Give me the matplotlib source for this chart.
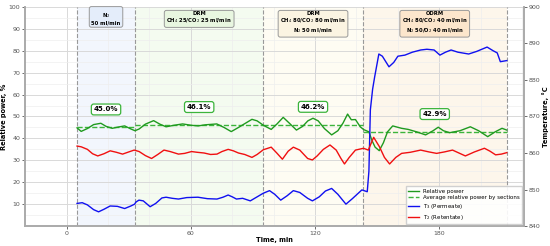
import matplotlib.pyplot as plt
from matplotlib.lines import Line2D

# section boundaries (min) and info
bounds = [5, 33, 95, 143, 212.6]
sec_avg = [45.0, 46.1, 46.2, 42.9]
sec_text = ['N$_2$\n50 ml/min',
            'DRM\nCH$_4$ 25/CO$_2$ 25 ml/min',
            'DRM\nCH$_4$ 80/CO$_2$ 80 ml/min\nN$_2$ 50 ml/min',
            'ODRM\nCH$_4$ 80/CO$_2$ 40 ml/min\nN$_2$ 50/O$_2$ 40 ml/min']
sec_fill = ['#f2f6fd', '#f4fbf0', '#fefcf3', '#fdf6eb']
sec_box = ['#e4edfa', '#e8f6e0', '#fbf4e2', '#fce6cc']

# relative power, %
t_pow = [5, 7, 10, 13, 16.5, 19, 22, 25, 28, 31, 33, 35, 38, 42, 45, 48, 52, 56, 60,
         63.5, 67, 72.5, 76, 79.5, 83, 86.5, 89.5, 92, 95, 98.8, 101.5, 104.6, 107.5,
         111, 114, 116.5, 119, 121.5, 124.5, 128, 131, 133.5, 135.7, 137.5, 139.5,
         141.8, 143.5, 146, 147.5, 149, 151, 153, 155, 157.5, 161.8, 165, 169, 173.4,
         177, 179.5, 182, 185, 190, 195, 199, 203.4, 207, 210.3, 212.6]
power = [44.8, 43.2, 44.5, 46.3, 46.9, 45.5, 44.6, 45.2, 45.7, 44.3, 43.5, 44.3, 46.5,
         48.1, 46.5, 45.3, 46.0, 46.6, 46.0, 45.7, 46.2, 46.6, 45.0, 43.1, 45.0, 47.0,
         48.7, 48.0, 46.0, 44.1, 46.5, 49.6, 47.0, 43.8, 45.5, 48.0, 49.2, 48.0, 44.5,
         41.6, 43.5, 47.0, 51.1, 48.5, 48.6, 45.3, 44.0, 43.0, 39.0, 36.0, 34.4, 38.0,
         43.0, 45.7, 44.6, 44.1, 43.0, 41.6, 43.5, 45.1, 43.5, 42.6, 43.5, 45.3, 43.5,
         40.8, 43.0, 44.6, 43.8]

# T2 (retentate), degC
t_ret = [5, 7, 10, 12.5, 15, 18, 21, 24, 27, 30, 32.6, 35, 38, 41, 44, 47, 50, 54, 57,
         60.3, 63, 66.4, 69.5, 72.6, 75, 78, 80.5, 83, 86, 89.5, 92, 95, 98.8, 101.5,
         104.2, 107, 109.5, 112.6, 116.4, 118.7, 121, 124, 127.2, 130.2, 132.5, 134.2,
         136.5, 139.5, 143.4, 145.7, 148.3, 151.1, 153.5, 156, 159, 161.8, 166, 171,
         175, 178.7, 182.5, 186.4, 189.5, 192.6, 197, 201.8, 204.5, 207.2, 210, 212.6]
t2 = [861.9, 861.7, 861.0, 859.8, 859.2, 859.8, 860.6, 860.2, 859.7, 860.3, 860.8,
      860.4, 859.3, 858.5, 859.6, 860.8, 860.4, 859.7, 859.9, 860.4, 860.2, 860.0,
      859.6, 859.7, 860.4, 861.0, 860.6, 860.0, 859.6, 858.8, 859.6, 860.9, 861.6,
      860.0, 858.3, 860.5, 861.6, 860.8, 858.5, 858.1, 859.2, 861.0, 862.2, 860.8,
      858.5, 857.0, 858.8, 860.8, 861.3, 860.8, 864.3, 861.7, 858.8, 857.0, 858.8,
      859.9, 860.2, 860.8, 860.3, 859.9, 860.3, 860.8, 860.0, 859.2, 860.3, 861.3,
      860.5, 859.5, 859.7, 860.1]

# T3 (permeate), degC
t_perm = [5, 7.5, 10, 13, 15.4, 18, 21, 24.5, 28, 31, 32.8, 33.5, 34.9, 37, 40.3, 43,
          46, 48, 51, 54, 58, 63.4, 68, 72.6, 75.5, 78, 80, 82, 85, 88.7, 92, 95, 98,
          100.5, 103.4, 106.5, 109.5, 112.6, 116.4, 118.7, 122, 125, 128, 131, 134.9,
          138, 142.6, 145.2, 146, 146.7, 147.8, 148.8, 150.8, 152.5, 155.7, 158, 160,
          163.4, 167, 171, 174, 177.5, 180.3, 183, 185.7, 189, 194.2, 198, 203.1, 206,
          208, 209.5, 212.6]
t3 = [846.2, 846.4, 845.8, 844.5, 843.9, 844.6, 845.5, 845.4, 844.8, 845.5, 846.0,
      846.6, 847.1, 846.9, 845.3, 846.2, 847.7, 847.9, 847.6, 847.4, 847.8, 847.9,
      847.5, 847.4, 847.9, 848.5, 848.0, 847.4, 847.6, 846.9, 848.0, 849.0, 849.7,
      848.7, 847.1, 848.3, 849.7, 849.2, 847.6, 846.9, 848.0, 849.6, 850.3, 848.7,
      846.0, 847.5, 849.9, 849.4, 855.0, 871.8, 877.5, 880.9, 887.1, 886.5, 883.6,
      884.8, 886.5, 886.8, 887.6, 888.2, 888.4, 888.2, 886.8, 887.6, 888.2, 887.6,
      887.1, 887.8, 889.0, 888.0, 887.4, 885.0, 885.3]

fig = plt.figure(figsize=(5.5, 2.46), dpi=100)
ax = fig.add_axes([0.046, 0.081, 0.907, 0.891])
ax2 = ax.twinx()

green = '#1f9a1f'
for i in range(4):
    a, b = bounds[i], bounds[i + 1]
    ax.axvspan(a, b, color=sec_fill[i], zorder=0, lw=0)
    ax.hlines(sec_avg[i], a, b, colors='#3cb43c', linestyles='--', lw=1.0, zorder=3)
    ax.text((a + b) / 2, sec_avg[i] + 8.2, f'{sec_avg[i]:.1f}%', ha='center', va='center',
            fontsize=5, fontweight='bold', zorder=6,
            bbox=dict(boxstyle='round,pad=0.35', fc='white', ec='#3cb43c', lw=0.9))
    ax.text((a + b) / 2, 98.3, sec_text[i], ha='center', va='top', fontsize=3.8,
            fontweight='bold', linespacing=1.15, zorder=6,
            bbox=dict(boxstyle='round,pad=0.4', fc=sec_box[i], ec='#999999', lw=0.7))
for b in bounds:
    ax.axvline(b, color='#999999', ls='--', lw=0.8, zorder=2)

ax.plot(t_pow, power, color=green, lw=1.0, zorder=4)
ax2.plot(t_perm, t3, color='#1010f0', lw=1.0, zorder=4)
ax2.plot(t_ret, t2, color='#f01010', lw=1.0, zorder=4)

ax.set_xlim(-10, 221)
ax.set_ylim(0, 100)
ax2.set_ylim(840, 900)
ax.set_xticks([0, 60, 120, 180])
ax.set_xticks(range(-20, 221, 20), minor=True)
ax.set_yticks(range(10, 101, 10))
ax.set_yticks(range(5, 100, 10), minor=True)
ax2.set_yticks(range(840, 901, 10))
ax.grid(True, which='major', color='#d9d9d9', lw=0.7, zorder=1)
ax.grid(True, which='minor', color='#eeeeee', lw=0.5, zorder=1)
ax.set_axisbelow(True)

for a in (ax, ax2):
    a.tick_params(labelsize=4.5, colors='#555555', length=2, width=0.6, pad=1.5)
    a.tick_params(which='minor', length=0)
    for s in a.spines.values():
        s.set_color('#aaaaaa')
        s.set_linewidth(1.2)
    a.spines['top'].set_visible(False)

ax.set_xlabel('Time, min', fontsize=4.8, fontweight='bold', labelpad=1)
ax.set_ylabel('Relative power, %', fontsize=4.8, fontweight='bold', labelpad=1)
ax2.set_ylabel('Temperature, °C', fontsize=4.8, fontweight='bold', labelpad=1)

handles = [Line2D([], [], color=green, lw=1.0),
           Line2D([], [], color='#3cb43c', lw=1.0, ls='--'),
           Line2D([], [], color='#1010f0', lw=1.0),
           Line2D([], [], color='#f01010', lw=1.0)]
labels = ['Relative power', 'Average relative power by sections',
          'T$_3$ (Permeate)', 'T$_2$ (Retentate)']
ax2.legend(handles, labels, loc='lower right', fontsize=4.0, frameon=True,
           fancybox=False, edgecolor='#cccccc', framealpha=0.9,
           borderaxespad=0.4, handlelength=1.9, labelspacing=0.3)

fig.savefig('out.png', dpi=100)
